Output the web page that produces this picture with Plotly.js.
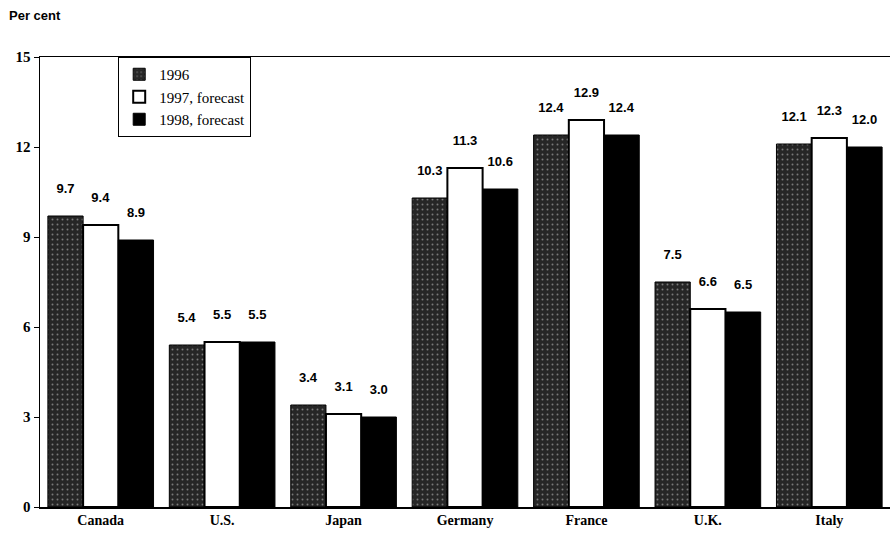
<!DOCTYPE html>
<html>
<head>
<meta charset="utf-8">
<script src="https://cdn.plot.ly/plotly-3.0.1.min.js"></script>
<style>html,body{margin:0;padding:0;background:#fff;}#chart{width:893px;height:543px;}</style>
</head>
<body>
<div id="chart"></div>
<script>
var countries = ["Canada", "U.S.", "Japan", "Germany", "France", "U.K.", "Italy"];
var seriesNames = ["1996", "1997, forecast", "1998, forecast"];
var values1996 = [9.7, 5.4, 3.4, 10.3, 12.4, 7.5, 12.1];
var values1997 = [9.4, 5.5, 3.1, 11.3, 12.9, 6.6, 12.3];
var values1998 = [8.9, 5.5, 3.0, 10.6, 12.4, 6.5, 12.0];
var yTicks = [0, 3, 6, 9, 12, 15];

var labelFont = {family: "Liberation Sans", size: 13, color: "#000", weight: "bold"};
function fmt(v){ return v.toFixed(1) + "<br> "; }

var traces = [
  {
    type: "bar", name: seriesNames[0], x: countries, y: values1996,
    text: values1996.map(fmt), textposition: "outside", textfont: labelFont, cliponaxis: false,
    marker: {color: "#262626", line: {color: "#000", width: 1},
      pattern: {shape: ".", fgcolor: "#7a7a7a", bgcolor: "#262626", size: 5, solidity: 0.12}},
    hoverinfo: "none"
  },
  {
    type: "bar", name: seriesNames[1], x: countries, y: values1997,
    text: values1997.map(fmt), textposition: "outside", textfont: labelFont, cliponaxis: false,
    marker: {color: "#ffffff", line: {color: "#000", width: 2}},
    hoverinfo: "none"
  },
  {
    type: "bar", name: seriesNames[2], x: countries, y: values1998,
    text: values1998.map(fmt), textposition: "outside", textfont: labelFont, cliponaxis: false,
    marker: {color: "#000000", line: {color: "#000", width: 1}},
    hoverinfo: "none"
  }
];

var layout = {
  width: 893, height: 543,
  margin: {l: 40, r: 3, t: 57, b: 36},
  paper_bgcolor: "#fff", plot_bgcolor: "#fff",
  barmode: "group", bargap: 0.13, bargroupgap: 0,
  showlegend: true,
  legend: {
    x: 0.092, y: 1, xanchor: "left", yanchor: "top",
    bordercolor: "#000", borderwidth: 1, bgcolor: "#fff",
    font: {family: "Liberation Serif", size: 15, color: "#000"},
    tracegroupgap: 0, itemwidth: 30
  },
  xaxis: {
    type: "category", showline: true, linecolor: "#000", linewidth: 1.5, mirror: true,
    ticks: "", showgrid: false, zeroline: false,
    tickfont: {family: "Liberation Serif", size: 14, color: "#000", weight: "bold"}
  },
  yaxis: {
    range: [0, 15], tickvals: yTicks, ticktext: yTicks.map(String),
    showline: true, linecolor: "#000", linewidth: 1.5,
    ticks: "outside", ticklen: 5, tickcolor: "#000", tickwidth: 1,
    showgrid: false, zeroline: false,
    tickfont: {family: "Liberation Serif", size: 15, color: "#000", weight: "bold"}
  },
  annotations: [{
    text: "Per cent", xref: "paper", yref: "paper", x: 0, y: 1,
    xshift: -33, yshift: 42, xanchor: "left", yanchor: "middle", showarrow: false,
    font: {family: "Liberation Sans", size: 13, color: "#000", weight: "bold"}
  }]
};

Plotly.newPlot("chart", traces, layout, {staticPlot: true, displayModeBar: false});
</script>
</body>
</html>
